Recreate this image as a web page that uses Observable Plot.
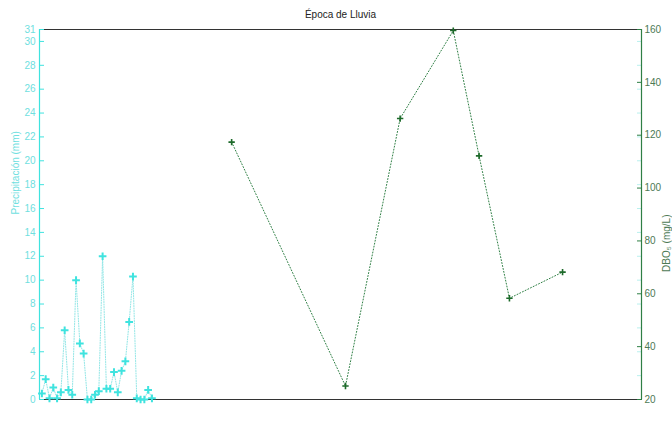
<!DOCTYPE html>
<html><head><meta charset="utf-8">
<script src="https://cdn.jsdelivr.net/npm/d3@7"></script>
<script src="https://cdn.jsdelivr.net/npm/@observablehq/plot@0.6"></script>
<style>
body{margin:0;background:#fff;}
#chart{position:relative;width:672px;height:423px;}
#chart svg{position:absolute;left:0;top:0;}
</style></head><body><div id="chart"></div>
<script>
const title = "Época de Lluvia";
const precipLabel = "Precipitación (mm)";
const dboLabel = "DBO₅ (mg/L)";
const precipDay = [1,2,3,4,5,6,7,8,9,10,11,12,13,14,15,16,17,18,19,20,21,22,23,24,25,26,27,28,29,30];
const precipMm = [0.5,1.7,0.1,1.0,0.1,0.6,5.8,0.8,0.4,10.0,4.7,3.85,0,0,0.4,0.7,12.0,0.9,0.9,2.3,0.6,2.4,3.2,6.5,10.3,0.1,0,0,0.8,0.1];
const dboDay = [51,81,95.4,109.4,116.2,124.2,138.2];
const dboMgL = [117.4,25.1,126.3,159.6,112.2,58.3,68.2];
const precipTicks = [0,2,4,6,8,10,12,14,16,18,20,22,24,26,28,30,31];
const dboTicks = [20,40,60,80,100,120,140,160];
const xDomain = [0.37,159];
const precipDomain = [0,31];
const dboDomain = [20,160];

const cyan = "#3fe3df", cyanText = "#6fe0e0", cyanLine = "#8fe6e6";
const green = "#2f7f45", greenText = "#4d7a55", greenDot = "#1d6a2a";
const precip = precipDay.map((d,i)=>({day:d, v:precipMm[i]}));
const dbo = dboDay.map((d,i)=>({day:d, v:dboMgL[i]}));

const common = {
  width:672, height:423, marginLeft:39, marginRight:31, marginTop:29, marginBottom:24,
  style:{fontFamily:"'Liberation Sans', Arial, sans-serif", fontSize:"10px", background:"transparent"}
};

const p1 = Plot.plot({
  ...common,
  x:{domain:xDomain, axis:null},
  y:{domain:precipDomain, axis:null},
  marks:[
    Plot.ruleY(precipDomain, {stroke:"#333", strokeWidth:1.2}),
    Plot.ruleX([xDomain[0]], {stroke:cyan, strokeWidth:1.2}),
    Plot.axisY(precipTicks, {anchor:"left", tickSize:-5, tickPadding:9, stroke:cyan, fill:cyanText, fontSize:10, label:null}),
    Plot.axisY(precipTicks, {anchor:"right", tickSize:-5, tickFormat:()=>"", stroke:"#b8f0ee", label:null}),
    Plot.text([precipLabel], {frameAnchor:"left", rotate:-90, dx:-24, fontSize:10, fill:cyanText}),
    Plot.line(precip, {x:"day", y:"v", stroke:cyanLine, strokeWidth:1, strokeDasharray:"1,1.5"}),
    Plot.dot(precip, {x:"day", y:"v", symbol:"plus", r:2.6, stroke:cyan, strokeWidth:2}),
    Plot.text([title], {frameAnchor:"top", dy:-12, fontSize:10, fill:"#222", lineAnchor:"bottom"})
  ]
});
p1.style.background = "#fff";

const p2 = Plot.plot({
  ...common,
  x:{domain:xDomain, axis:null},
  y:{domain:dboDomain, axis:null},
  marks:[
    Plot.ruleX([xDomain[1]], {stroke:green, strokeWidth:1.2}),
    Plot.axisY(dboTicks, {anchor:"right", tickSize:-5, tickPadding:8, stroke:green, fill:greenText, fontSize:10, label:null}),
    Plot.text([dboLabel], {frameAnchor:"right", rotate:-90, dx:25, fontSize:10, fill:greenText}),
    Plot.line(dbo, {x:"day", y:"v", stroke:green, strokeWidth:1, strokeDasharray:"1,2"}),
    Plot.dot(dbo, {x:"day", y:"v", symbol:"plus", r:2.2, stroke:greenDot, strokeWidth:1.6})
  ]
});

const c = document.getElementById("chart");
c.appendChild(p1);
c.appendChild(p2);
</script></body></html>
